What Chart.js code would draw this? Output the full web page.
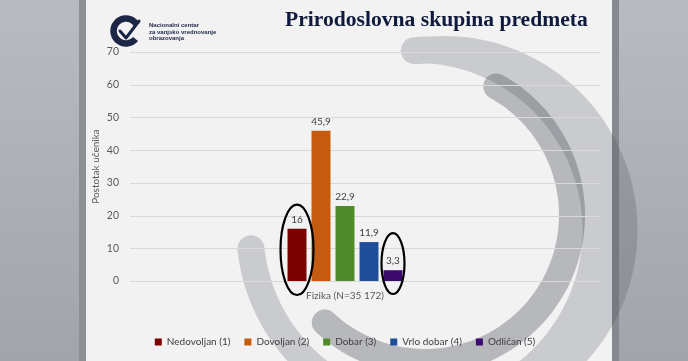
<!DOCTYPE html>
<html>
<head>
<meta charset="utf-8">
<script src="https://cdn.jsdelivr.net/npm/chart.js@4.4.1/dist/chart.umd.min.js"></script>
<style>
  html, body { margin: 0; padding: 0; background: #f2f2f2; }
  #wrap { position: relative; width: 688px; height: 361px; overflow: hidden; }
  #barChart { position: absolute; left: 0; top: 0; }
  .title {
    position: absolute; left: 285px; top: 7px;
    font: bold 21.6px "Liberation Serif", serif; color: #0f1a3c; white-space: nowrap;
  }
  .logo-text {
    position: absolute; left: 149px; top: 22px;
    font: bold 6px/6.6px "Liberation Sans", sans-serif; color: #1b2545; white-space: nowrap;
  }
</style>
</head>
<body>
<div id="wrap">
  <canvas id="barChart"></canvas>
  <div class="title">Prirodoslovna skupina predmeta</div>
  <div class="logo-text">Nacionalni centar<br>za vanjsko vrednovanje<br>obrazovanja</div>
</div>
<script>
const categories = ['Fizika (N=35 172)'];
const gradeNames = ['Nedovoljan (1)', 'Dovoljan (2)', 'Dobar (3)', 'Vrlo dobar (4)', 'Odličan (5)'];
const gradePercent = [16, 45.9, 22.9, 11.9, 3.3];
const gradeColors = ['#7b0000', '#c55a11', '#4f8a2b', '#1f4e99', '#3d0a6e'];
const yTicks = [0, 10, 20, 30, 40, 50, 60, 70];
const yAxisTitle = 'Postotak učenika';

// hand drawn rings round two of the bars (offsets in px from bar top / axis)
const circled = [
  { grade: 0, rx: 16.5, above: 24, below: 14 },
  { grade: 4, rx: 11.5, above: 37, below: 13 }
];

const fmt = v => String(v).replace('.', ',');

// thick arc with round ends, width can vary along the arc
function ring(ctx, cx, cy, r, a0, a1, widthAt, color) {
  const t0 = a0 * Math.PI / 180, t1 = a1 * Math.PI / 180;
  const n = 120;
  ctx.beginPath();
  for (let i = 0; i <= n; i++) {
    const t = t0 + (t1 - t0) * i / n, w = widthAt(t) / 2;
    const x = cx + (r + w) * Math.cos(t), y = cy + (r + w) * Math.sin(t);
    i === 0 ? ctx.moveTo(x, y) : ctx.lineTo(x, y);
  }
  let w = widthAt(t1) / 2;
  ctx.arc(cx + r * Math.cos(t1), cy + r * Math.sin(t1), w, t1, t1 + Math.PI);
  for (let i = n; i >= 0; i--) {
    const t = t0 + (t1 - t0) * i / n, ww = widthAt(t) / 2;
    ctx.lineTo(cx + (r - ww) * Math.cos(t), cy + (r - ww) * Math.sin(t));
  }
  w = widthAt(t0) / 2;
  ctx.arc(cx + r * Math.cos(t0), cy + r * Math.sin(t0), w, t0 + Math.PI, t0 + 2 * Math.PI);
  ctx.closePath();
  ctx.fillStyle = color;
  ctx.fill();
}

const slideBackground = {
  id: 'slideBackground',
  beforeDraw(chart) {
    const ctx = chart.ctx;
    ctx.save();
    ctx.fillStyle = '#f2f2f2';
    ctx.fillRect(0, 0, 688, 361);
    const g = ctx.createLinearGradient(0, 0, 0, 361);
    g.addColorStop(0, '#b8bbbf');
    g.addColorStop(1, '#a2a4a9');
    ctx.fillStyle = g;
    ctx.fillRect(0, 0, 79, 361);
    ctx.fillRect(619, 0, 69, 361);
    ctx.fillStyle = '#8c8f93';
    ctx.fillRect(79, 0, 7, 361);
    ctx.fillStyle = '#86898e';
    ctx.fillRect(612, 0, 7, 361);

    ring(ctx, 430, 230, 180, -95, 174, t => 27 + 28 * Math.max(0, Math.cos(t)), 'rgba(66,72,86,0.23)');
    ring(ctx, 425, 215, 147, -61, 133, () => 26, 'rgba(66,72,86,0.34)');

    // logo mark
    ctx.strokeStyle = '#1b2545';
    ctx.lineWidth = 6.5;
    ctx.beginPath();
    ctx.arc(126, 31, 12.5, 40 * Math.PI / 180, 330 * Math.PI / 180);
    ctx.stroke();
    ctx.lineWidth = 3;
    ctx.lineCap = 'round';
    ctx.lineJoin = 'round';
    ctx.beginPath();
    ctx.moveTo(120, 31);
    ctx.lineTo(126, 38);
    ctx.lineTo(139, 21);
    ctx.stroke();
    ctx.restore();
  }
};

const extendedGrid = {
  id: 'extendedGrid',
  beforeDatasetsDraw(chart) {
    const { ctx, chartArea, scales: { y } } = chart;
    ctx.save();
    ctx.strokeStyle = '#d9d9d9';
    ctx.lineWidth = 1;
    yTicks.forEach(v => {
      const py = Math.round(y.getPixelForValue(v)) + 0.5;
      ctx.beginPath();
      ctx.moveTo(chartArea.left, py);
      ctx.lineTo(chartArea.right + 40, py);
      ctx.stroke();
    });
    ctx.restore();
  }
};

const valueLabels = {
  id: 'valueLabels',
  afterDatasetsDraw(chart) {
    const ctx = chart.ctx;
    ctx.save();
    ctx.font = '10px Lato';
    ctx.fillStyle = '#404040';
    ctx.textAlign = 'center';
    ctx.textBaseline = 'bottom';
    chart.data.datasets.forEach((ds, i) => {
      chart.getDatasetMeta(i).data.forEach((bar, j) => {
        ctx.fillText(fmt(ds.data[j]), bar.x, bar.y - 4);
      });
    });
    ctx.restore();
  }
};

const circleMarks = {
  id: 'circleMarks',
  afterDraw(chart) {
    const { ctx, scales: { y } } = chart;
    const base = y.getPixelForValue(0);
    ctx.save();
    ctx.strokeStyle = '#000';
    ctx.lineWidth = 2.2;
    circled.forEach(c => {
      const bar = chart.getDatasetMeta(c.grade).data[0];
      const top = bar.y - c.above, bottom = base + c.below;
      ctx.beginPath();
      ctx.ellipse(bar.x, (top + bottom) / 2, c.rx, (bottom - top) / 2, 0, 0, 2 * Math.PI);
      ctx.stroke();
    });
    ctx.restore();
  }
};

const ctx = document.getElementById('barChart');

new Chart(ctx, {
  type: 'bar',
  data: {
    labels: categories,
    datasets: gradeNames.map((name, i) => ({
      label: name,
      data: [gradePercent[i]],
      backgroundColor: gradeColors[i],
      categoryPercentage: 0.279,
      barPercentage: 0.79
    }))
  },
  options: {
    responsive: true,
    maintainAspectRatio: false,
    animation: false,
    layout: { padding: { left: 86, right: 128, top: 52, bottom: 4 } },
    scales: {
      x: {
        grid: { display: false, drawTicks: false },
        border: { display: false },
        ticks: { color: '#595959', font: { family: 'Lato', size: 10 }, padding: 9 },
        afterFit: s => { s.height = 42; }
      },
      y: {
        min: 0,
        max: 70,
        afterBuildTicks: s => { s.ticks = yTicks.map(v => ({ value: v })); },
        grid: { display: false, drawTicks: false },
        border: { display: false },
        ticks: { color: '#595959', font: { family: 'Lato', size: 10.5 }, padding: 11 },
        title: { display: true, text: yAxisTitle, color: '#595959', font: { family: 'Lato', size: 10 } },
        afterFit: s => { s.width = 44; }
      }
    },
    plugins: {
      legend: {
        position: 'bottom',
        fullSize: false,
        labels: { boxWidth: 7, boxHeight: 7, padding: 14, color: '#404040', font: { family: 'Lato', size: 10 } }
      },
      tooltip: { enabled: false }
    }
  },
  plugins: [slideBackground, extendedGrid, valueLabels, circleMarks]
});
</script>
</body>
</html>
